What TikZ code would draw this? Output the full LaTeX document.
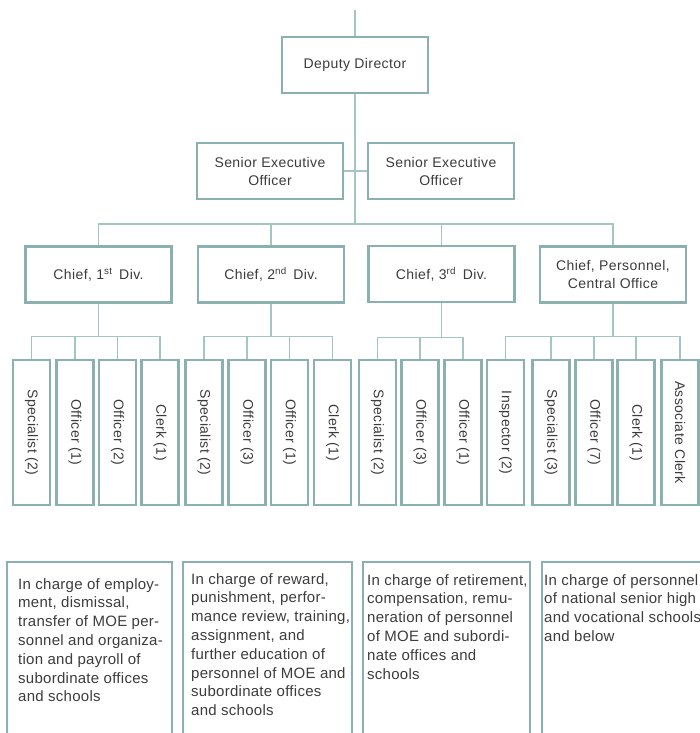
\documentclass[tikz,border=0pt]{standalone}
\usepackage{fontspec}
\setmainfont[LetterSpace=3]{Liberation Sans}
\usepackage{xcolor}
\usepackage{tikz}
\usetikzlibrary{positioning, calc}

\definecolor{boxline}{RGB}{138,176,176}
\definecolor{wire}{RGB}{165,197,197}
\definecolor{ink}{RGB}{60,60,60}

\begin{document}
\begin{tikzpicture}[
    x=1pt, y=-1pt,
    post/.style  = {draw=boxline, line width=2.4pt, fill=white, text=ink,
                    align=center, inner sep=0pt,
                    font=\fontsize{14}{18}\selectfont},
    head/.style  = {post, minimum width=146pt, minimum height=56pt},
    staff/.style = {post, rotate=-90, minimum width=145pt, minimum height=37pt},
    frame/.style = {draw=boxline, line width=2.4pt},
    duty/.style  = {text=ink, align=left, anchor=north west, inner sep=0pt,
                    font=\fontsize{15}{18.8}\selectfont\addfontfeature{LetterSpace=1.8}},
    link/.style  = {draw=wire, line width=1.3pt}
  ]
  \useasboundingbox (0,0) rectangle (700,733);
  \clip (0,0) rectangle (700,733);

  % ----------------------------------------------------------------
  % Top of the chart: deputy and the two senior executive officers
  % ----------------------------------------------------------------
  \coordinate (top) at (355,10);
  \node[head] (dep)  at (355,65)  {Deputy Director};
  \node[head] (seoL) at (270,171) {Senior Executive\\Officer};
  \node[head] (seoR) at (441,171) {Senior Executive\\Officer};

  % ----------------------------------------------------------------
  % Division chiefs
  % ----------------------------------------------------------------
  \node[head] (c1) at (98.5,274.5)  {Chief, 1\textsuperscript{st}\,\ Div.};
  \node[head] (c2) at (271,274.5)   {Chief, 2\textsuperscript{nd}\,\ Div.};
  \node[head] (c3) at (441.5,274)   {Chief, 3\textsuperscript{rd}\,\ Div.};
  \node[head] (c4) at (613,274.5)   {Chief, Personnel,\\Central Office};

  \coordinate (bus) at (355,224);
  \draw[link] (top) -- (dep.north);
  \draw[link] (dep.south) -- (bus);
  \draw[link] (seoL.east) -- (seoR.west);
  \draw[link] (c1.north) |- (bus) -| (c4.north);
  \draw[link] (c2.north) -- (c2.north |- bus);
  \draw[link] (c3.north) -- (c3.north |- bus);

  % ----------------------------------------------------------------
  % Staff under each chief (vertical boxes)
  % ----------------------------------------------------------------
  \foreach \k/\xx/\lbl in {
      1/31.5/{Specialist (2)}, 2/75/{Officer (1)},
      3/117.5/{Officer (2)},   4/160/{Clerk (1)}}{
    \node[staff] (a\k) at (\xx,432.5) {\lbl};
  }
  \foreach \k/\xx/\lbl in {
      1/204/{Specialist (2)}, 2/247/{Officer (3)},
      3/289.5/{Officer (1)},  4/332.5/{Clerk (1)}}{
    \node[staff] (b\k) at (\xx,432.5) {\lbl};
  }
  \foreach \k/\xx/\lbl in {
      1/377.5/{Specialist (2)}, 2/420/{Officer (3)}, 3/463/{Officer (1)}}{
    \node[staff] (e\k) at (\xx,432.5) {\lbl};
  }
  \foreach \k/\xx/\lbl in {
      1/505.5/{Inspector (2)}, 2/551/{Specialist (3)}, 3/594/{Officer (7)},
      4/636/{Clerk (1)},       5/680/{Associate Clerk}}{
    \node[staff] (p\k) at (\xx,432.5) {\lbl};
  }

  % staff buses
  \draw[link] (c1.south) -- ++(0,33) coordinate (ja);
  \draw[link] (a1.west) |- (ja) -| (a4.west);
  \foreach \k in {2,3}{ \draw[link] (a\k.west) -- (a\k.west |- ja); }

  \draw[link] (c2.south) -- ++(0,33) coordinate (jb);
  \draw[link] (b1.west) |- (jb) -| (b4.west);
  \foreach \k in {2,3}{ \draw[link] (b\k.west) -- (b\k.west |- jb); }

  \draw[link] (c3.south) -- ++(0,34) coordinate (je);
  \draw[link] (e1.west) |- (je) -| (e3.west);
  \draw[link] (e2.west) -- (e2.west |- je);

  \draw[link] (c4.south) -- ++(0,33) coordinate (jp);
  \draw[link] (p1.west) |- (jp) -| (p5.west);
  \foreach \k in {2,3,4}{ \draw[link] (p\k.west) -- (p\k.west |- jp); }

  % ----------------------------------------------------------------
  % Duties of each division (boxes run off the bottom edge)
  % ----------------------------------------------------------------
  \draw[frame] (7,562)   rectangle (172,745);
  \draw[frame] (183,562) rectangle (352,745);
  \draw[frame] (363,562) rectangle (530,745);
  \draw[frame] (542,562) rectangle (712,745);

  \node[duty] (d1) at (18,578) {In charge of employ-\\ment, dismissal,\\transfer of MOE per-\\sonnel and organiza-\\tion and payroll of\\subordinate offices\\and schools};
  \node[duty] (d2) at (191,573) {In charge of reward,\\punishment, perfor-\\mance review, training,\\assignment, and\\further education of\\personnel of MOE and\\subordinate offices\\and schools};
  \node[duty] (d3) at (367,574) {In charge of retirement,\\compensation, remu-\\neration of personnel\\of MOE and subordi-\\nate offices and\\schools};
  \node[duty] (d4) at (544,574) {In charge of personnel\\of national senior high\\and vocational schools\\and below};

\end{tikzpicture}
\end{document}
